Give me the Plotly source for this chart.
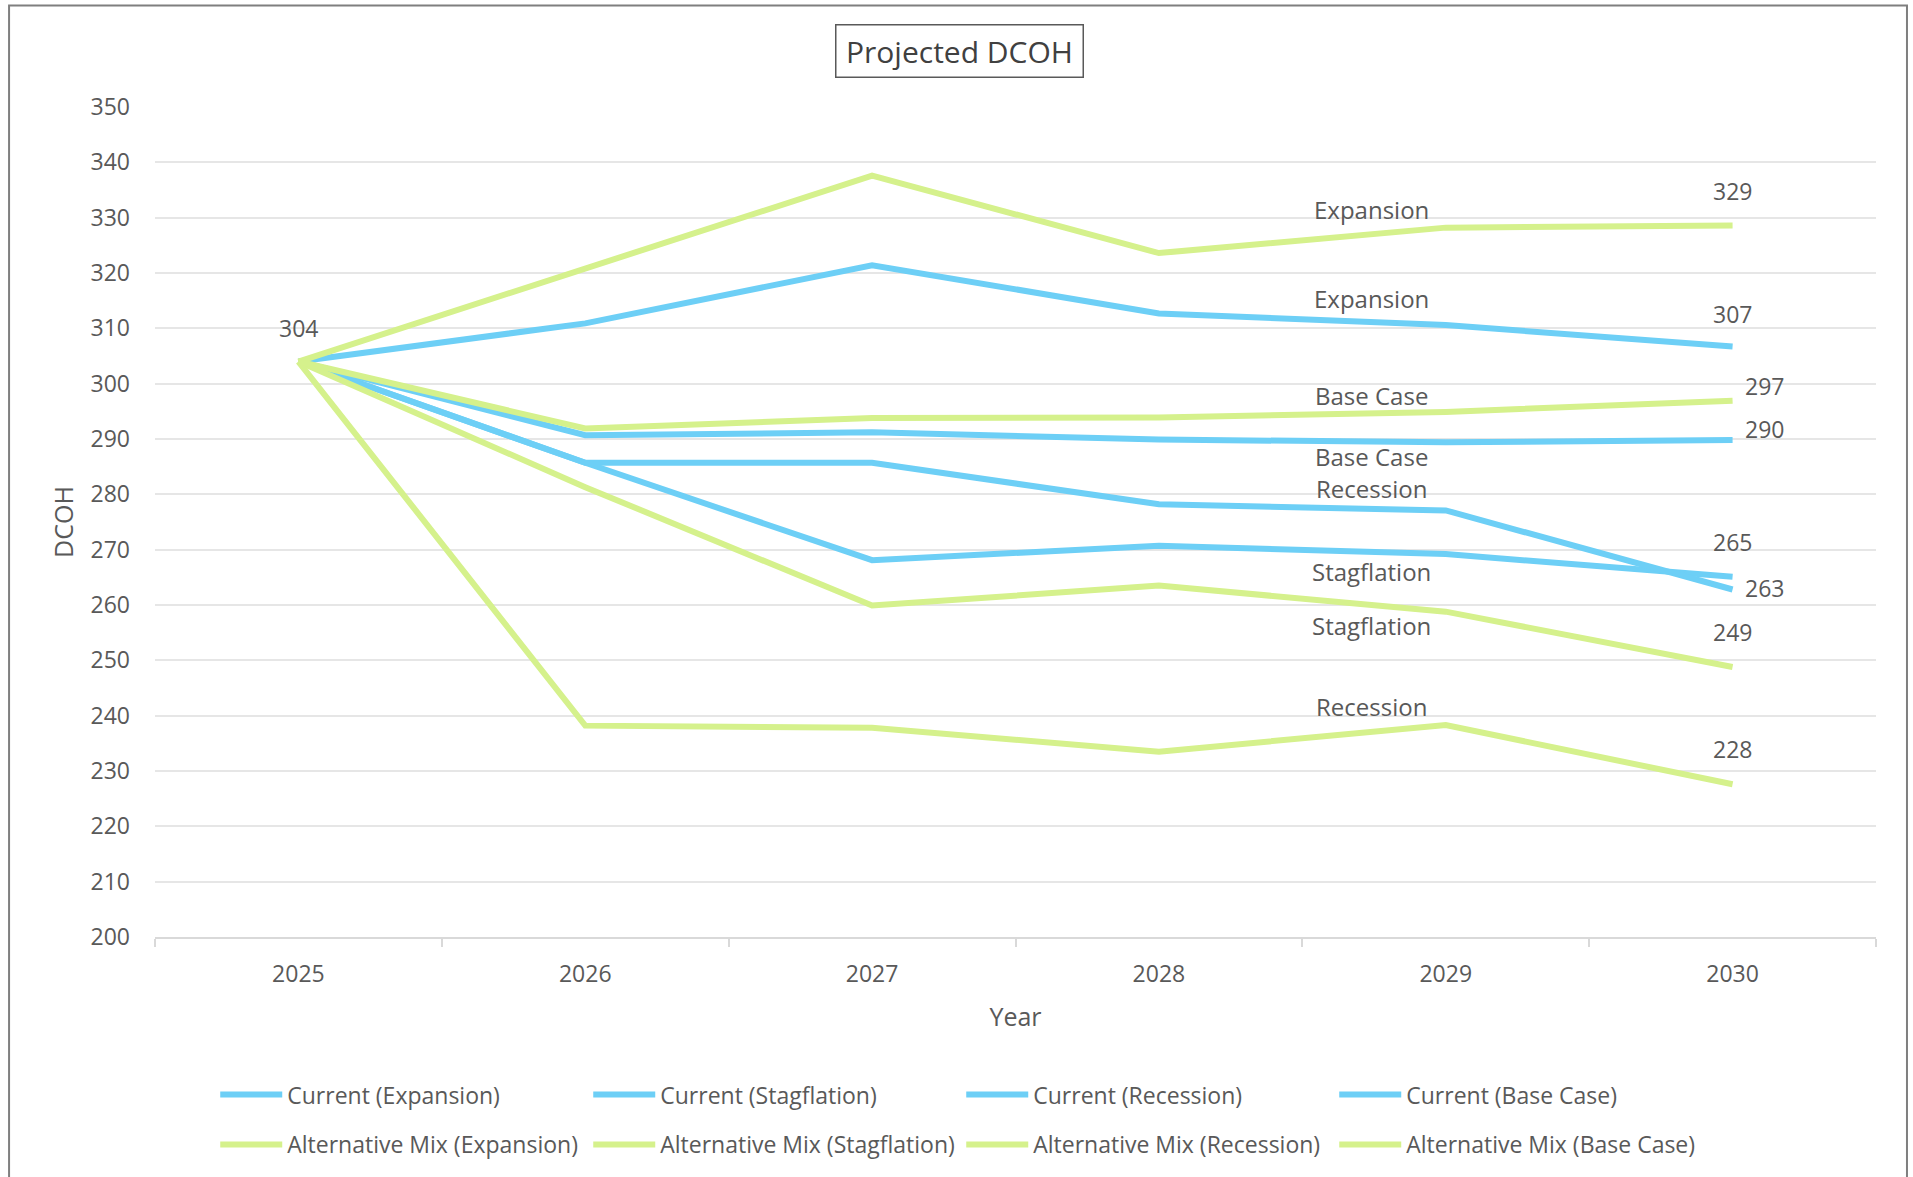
import plotly.graph_objects as go

# Projected DCOH by scenario, 2025-2030
years = ["2025", "2026", "2027", "2028", "2029", "2030"]

current_expansion = [304, 310.9, 321.4, 312.7, 310.6, 306.7]
current_stagflation = [304, 285.7, 268.1, 270.7, 269.2, 265.1]
current_recession = [304, 285.7, 285.7, 278.2, 277.1, 262.8]
current_base = [304, 290.7, 291.2, 289.9, 289.4, 289.8]

alt_expansion = [304, 320.9, 337.6, 323.6, 328.2, 328.6]
alt_stagflation = [304, 281.3, 259.9, 263.5, 258.8, 248.8]
alt_recession = [304, 238.2, 237.8, 233.5, 238.3, 227.6]
alt_base = [304, 291.9, 293.8, 293.9, 294.9, 296.9]

series_names = [
    "Current (Expansion)", "Current (Stagflation)", "Current (Recession)", "Current (Base Case)",
    "Alternative Mix (Expansion)", "Alternative Mix (Stagflation)",
    "Alternative Mix (Recession)", "Alternative Mix (Base Case)",
]
series_values = [
    current_expansion, current_stagflation, current_recession, current_base,
    alt_expansion, alt_stagflation, alt_recession, alt_base,
]
scenario_tags = ["Expansion", "Stagflation", "Recession", "Base Case",
                 "Expansion", "Stagflation", "Recession", "Base Case"]

BLUE = "#6dcff6"
GREEN = "#d5f18c"
TEXT = "#595959"
FONT = "Open Sans"

fig = go.Figure()
for i, (name, vals) in enumerate(zip(series_names, series_values)):
    fig.add_trace(go.Scatter(
        x=years, y=vals, name=name, mode="lines",
        line=dict(color=BLUE if i < 4 else GREEN, width=6),
        legend="legend" if i < 4 else "legend2",
        hoverinfo="x+y+name",
    ))

annotations = []

# scenario tags near 2029 (offsets in px relative to each series' 2029 point)
tag_offsets = [27, -17, 22, -14, 18, -14, 19, 16]
for i, tag in enumerate(scenario_tags):
    annotations.append(dict(
        x=4, y=series_values[i][4], xref="x", yref="y", text=tag,
        showarrow=False, xshift=-74, yshift=tag_offsets[i],
        font=dict(size=24, color=TEXT, family=FONT),
    ))

# end-value labels at 2030
end_offsets = [(0, 33), (0, 35), (32, 2), (32, 11), (0, 34), (0, 35), (0, 35), (32, 15)]
for i, (dx, dy) in enumerate(end_offsets):
    v = series_values[i][5]
    annotations.append(dict(
        x=5, y=v, xref="x", yref="y", text=f"{round(v)}",
        showarrow=False, xshift=dx, yshift=dy,
        font=dict(size=23, color=TEXT, family=FONT),
    ))

# starting value label
annotations.append(dict(
    x=0, y=current_expansion[0], xref="x", yref="y", text=f"{round(current_expansion[0])}",
    showarrow=False, yshift=34, font=dict(size=23, color=TEXT, family=FONT),
))

# boxed title
annotations.append(dict(
    x=0.4673, y=1.068, xref="paper", yref="paper", text="Projected DCOH",
    xanchor="center", yanchor="middle", width=236, align="center",
    showarrow=False, font=dict(size=30, color="#404040", family=FONT),
    bordercolor="#595959", borderwidth=1.5, borderpad=5, bgcolor="white",
))

legend_common = dict(
    orientation="h", x=0.035, xanchor="left", yanchor="middle",
    entrywidth=296, entrywidthmode="pixels", itemwidth=62,
    font=dict(size=23, color=TEXT, family=FONT), bgcolor="rgba(0,0,0,0)",
)

fig.update_layout(
    width=1913, height=1177,
    margin=dict(l=155, r=37, t=107, b=239),
    paper_bgcolor="white", plot_bgcolor="white",
    font=dict(family=FONT, color=TEXT, size=23),
    annotations=annotations,
    shapes=[dict(
        type="rect", xref="paper", yref="paper",
        x0=-0.0848, x1=1.0180, y0=-0.30, y1=1.1222,
        line=dict(color="#7f7f7f", width=2), layer="below",
    )],
    legend=dict(legend_common, y=-0.1885),
    legend2=dict(legend_common, y=-0.2485),
    xaxis=dict(
        type="category", range=[-0.5, 5.5], tickson="boundaries",
        ticks="outside", ticklen=8, tickcolor="#d9d9d9", tickwidth=1.5,
        showline=True, linecolor="#d9d9d9", linewidth=1.5,
        showgrid=False, ticklabelstandoff=16,
        tickfont=dict(size=23, color=TEXT),
        title=dict(text="Year", font=dict(size=25, color=TEXT), standoff=20),
    ),
    yaxis=dict(
        range=[200, 350], dtick=10, tick0=200,
        showgrid=True, gridcolor="#e6e6e6", gridwidth=2,
        zeroline=False, showline=False, ticks="",
        ticklabelstandoff=24, tickfont=dict(size=23, color=TEXT),
        title=dict(text="DCOH", font=dict(size=25, color=TEXT), standoff=9),
    ),
)

fig.write_html("out.html")
